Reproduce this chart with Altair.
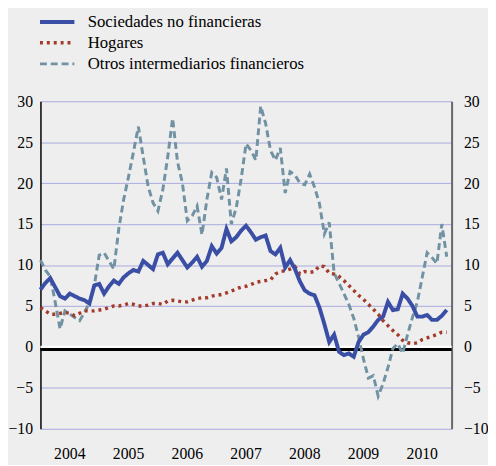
import altair as alt
import pandas as pd

# ---- data (monthly, Jan 2004 .. Dec 2010) ----
series_names = ["Sociedades no financieras", "Hogares", "Otros intermediarios financieros"]

sociedades = [
    7.0, 7.8, 8.4, 7.3, 6.2, 5.9, 6.5, 6.2, 5.9, 5.7, 5.3, 7.5,
    7.7, 6.5, 7.4, 8.1, 7.7, 8.5, 9.0, 9.4, 9.2, 10.5, 10.0, 9.5,
    11.3, 11.5, 10.1, 10.8, 11.5, 10.6, 9.7, 10.3, 11.0, 9.8, 10.5, 12.3,
    11.4, 12.1, 14.4, 12.9, 13.4, 14.2, 14.8, 14.0, 13.1, 13.4, 13.6, 11.7,
    11.3, 12.1, 9.7, 10.6, 9.5, 8.0, 6.9, 6.5, 6.3, 4.8, 2.8, 0.6,
    1.5, -0.6, -1.0, -0.8, -1.2, 0.6, 1.5, 1.8, 2.5, 3.3, 3.7, 5.5,
    4.5, 4.6, 6.5, 5.9, 5.0, 3.7, 3.7, 3.9, 3.3, 3.3, 3.8, 4.5,
]
hogares = [
    4.8, 4.4, 4.0, 4.0, 4.1, 4.2, 4.1, 3.8, 4.1, 4.4, 4.4, 4.4,
    4.5, 4.6, 4.8, 5.0, 5.0, 5.1, 5.3, 5.2, 5.0, 5.0, 5.1, 5.3,
    5.3, 5.2, 5.6, 5.7, 5.6, 5.5, 5.5, 5.7, 5.9, 6.0, 6.0, 6.2,
    6.3, 6.4, 6.6, 6.8, 7.1, 7.3, 7.4, 7.6, 7.9, 8.0, 8.1, 8.2,
    8.9, 9.2, 9.3, 9.5, 9.8, 8.9, 9.2, 9.1, 9.2, 9.9, 9.8, 9.0,
    8.9, 8.6, 8.1, 7.5, 6.9, 6.3, 5.8, 5.2, 4.6, 4.0, 3.2, 2.6,
    2.0, 1.5, 0.8, 0.5, 0.4, 0.5, 0.9, 1.1, 1.3, 1.5, 1.8, 1.8,
]
otros = [
    10.6, 9.4, 8.6, 5.5, 2.2, 4.4, 4.0, 3.6, 3.2, 4.2, 5.4, 7.5,
    11.2, 11.5, 10.5, 9.5, 14.4, 18.0, 20.8, 23.8, 26.9, 23.2, 19.6, 17.6,
    16.6, 19.2, 23.2, 27.9, 22.6, 20.0, 15.4, 16.0, 17.2, 13.7, 18.0, 21.3,
    20.7, 18.0, 21.8, 15.0, 17.0, 20.5, 24.8, 24.0, 22.8, 29.4, 27.3, 24.0,
    22.8, 24.3, 18.8, 21.4, 21.0, 20.0, 19.8, 21.1, 19.5, 17.5, 13.8, 15.2,
    9.0, 7.8, 6.5, 5.2, 3.5, 1.2, -1.5, -3.8, -3.5, -6.0, -4.5, -2.5,
    -0.2, 0.4, -0.8, 1.5, 3.6, 5.5, 8.5, 11.5, 10.9, 10.2, 15.0, 11.0,
]
years = [2004, 2005, 2006, 2007, 2008, 2009, 2010]
y_ticks = [-10, -5, 0, 5, 10, 15, 20, 25, 30]

rows = []
# drawing order: dashed first, then dotted, solid on top
for name, vals in [(series_names[2], otros), (series_names[1], hogares), (series_names[0], sociedades)]:
    for m, v in enumerate(vals):
        rows.append({"t": 2004 + m / 12, "v": v, "serie": name})
df = pd.DataFrame(rows)

year_df = pd.DataFrame({"mid": [y + 0.5 for y in years], "label": [str(y) for y in years]})
zero_df = pd.DataFrame({"z": [0]})

quarters = [2004 + q / 4 for q in range(29)]

FONT = "Liberation Serif, DejaVu Serif, Noto Serif, Times New Roman, serif"
GRID = "#a9a9e0"

xscale = alt.Scale(domain=[2004, 2011], nice=False, zero=False)
yscale = alt.Scale(domain=[-10, 30], nice=False, zero=False)

leg = alt.Legend(
    title=None, orient="none", legendX=6.0, legendY=-91.5,
    symbolType="M-2,0H2", symbolSize=306, labelFont=FONT, labelFontSize=17,
    labelColor="black", labelOffset=20, rowPadding=2.5, padding=0, labelLimit=400,
)

lines = alt.Chart(df).mark_line().encode(
    x=alt.X("t:Q", scale=xscale, title=None,
            axis=alt.Axis(values=quarters, labels=False, grid=True, gridColor=GRID,
                          gridWidth=1, ticks=True, tickSize=7, tickColor="black",
                          tickWidth=1.5, domainColor="black", domainWidth=1.5,
                          offset=2)),
    y=alt.Y("v:Q", scale=yscale, title=None,
            axis=alt.Axis(values=y_ticks, grid=True, gridColor=GRID, gridWidth=1,
                          ticks=False, labelPadding=8, labelFont=FONT, labelFontSize=16,
                          labelColor="black", domainColor="black", domainWidth=1.5)),
    color=alt.Color("serie:N", scale=alt.Scale(domain=series_names,
                    range=["#3b4ea5", "#a33b2b", "#7092a2"]), legend=leg),
    strokeDash=alt.StrokeDash("serie:N", scale=alt.Scale(domain=series_names,
                    range=[[1, 0], [3, 4], [7, 4]]), legend=leg),
    strokeWidth=alt.StrokeWidth("serie:N", scale=alt.Scale(domain=series_names,
                    range=[4, 3, 4.5]), legend=leg),
    detail="serie:N",
)

year_text = alt.Chart(year_df).mark_text(
    font=FONT, fontSize=16, color="black", baseline="alphabetic", align="center"
).encode(
    x=alt.X("mid:Q", scale=xscale, axis=None),
    y=alt.value(364),
    text="label:N",
)

inner = alt.layer(lines, year_text)

zero_white = alt.Chart(zero_df).mark_rule(color="white", strokeWidth=2.2).encode(
    y=alt.Y("z:Q", scale=yscale, title=None,
            axis=alt.Axis(orient="right", values=y_ticks, grid=False, ticks=False,
                          labelPadding=12, labelFont=FONT, labelFontSize=16,
                          labelColor="black", domainColor="#666666", domainWidth=2)),
)
zero_black = alt.Chart(zero_df).mark_rule(color="black", strokeWidth=3, yOffset=2.6).encode(
    y=alt.Y("z:Q", scale=yscale),
)
right = alt.layer(zero_white, zero_black)

chart = alt.layer(right, inner).resolve_axis(y="independent").properties(
    width=418, height=333,
    padding={"left": 33, "top": 91, "right": 37, "bottom": 33},
    autosize=alt.AutoSizeParams(type="none"),
).configure(background="#eeeeee").configure_view(stroke=None)

chart.save("out.html", embed_options={"renderer": "svg", "actions": False})
